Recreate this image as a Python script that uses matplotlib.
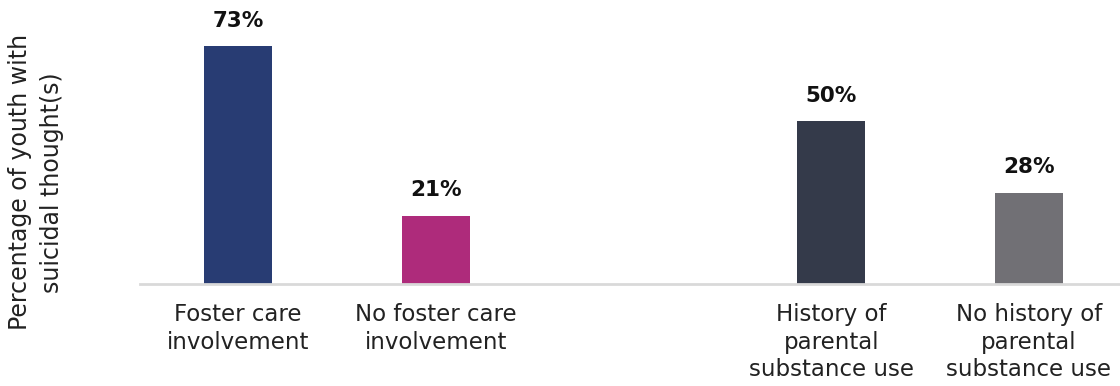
import matplotlib
matplotlib.use("Agg")
import matplotlib.pyplot as plt

categories = ["Foster care\ninvolvement", "No foster care\ninvolvement",
              "History of\nparental\nsubstance use", "No history of\nparental\nsubstance use"]
values = [73, 21, 50, 28]
positions = [0, 1, 3, 4]
colors = ["#283c73", "#ae2b7b", "#343a4a", "#717075"]
ylabel = "Percentage of youth with\nsuicidal thought(s)"

plt.rcParams['font.family'] = ['DejaVu Sans']

fig = plt.figure(figsize=(11.2, 3.86), dpi=100)
ax = fig.add_axes([0.125, 0.2642, 0.875, 0.6757])
bars = ax.bar(positions, values, width=0.345, color=colors)
ax.set_xlim(-0.496, 4.461)
ax.set_ylim(0, 80)

for p, v in zip(positions, values):
    ax.annotate(f"{v}%", (p, v), xytext=(0, 11), textcoords="offset points",
                ha="center", va="bottom", fontsize=15.5, fontweight="bold", color="#111111")

ax.set_xticks(positions)
ax.set_xticklabels(categories, fontsize=16.5, color="#222222", linespacing=1.27)
ax.tick_params(axis="x", length=0, pad=13.5)
ax.set_yticks([])
for s in ["top", "right", "left"]:
    ax.spines[s].set_visible(False)
ax.spines["bottom"].set_color("#d9d9d9")
ax.spines["bottom"].set_linewidth(2)

fig.text(0.032, 0.528, ylabel, rotation=90, ha="center", va="center",
         fontsize=17, color="#222222", linespacing=1.4)

fig.savefig("out.png", dpi=100)
